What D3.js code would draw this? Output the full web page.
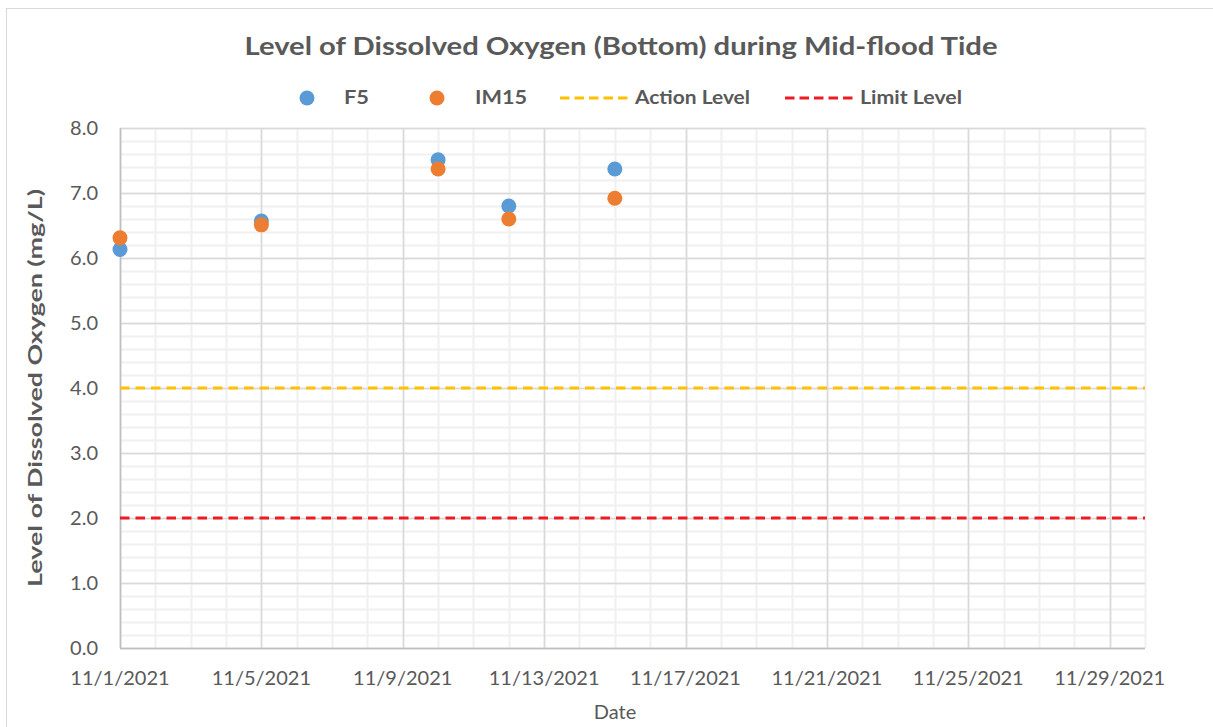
<!DOCTYPE html>
<html><head><meta charset="utf-8">
<script src="https://cdn.jsdelivr.net/npm/d3@7"></script>
<style>body{margin:0;background:#fff}svg{display:block}text{font-family:Lato,"Open Sans",sans-serif}</style>
</head><body><svg id="c" width="1213" height="727"></svg>
<script>
const dates = ["2021-11-01","2021-11-05","2021-11-10","2021-11-12","2021-11-15"];
const f5 = [6.13, 6.57, 7.51, 6.80, 7.37];
const im15 = [6.31, 6.51, 7.37, 6.60, 6.92];
const actionLevel = 4.0;
const limitLevel = 2.0;
const yTicks = [0,1,2,3,4,5,6,7,8];
const xTickDates = ["2021-11-01","2021-11-05","2021-11-09","2021-11-13","2021-11-17","2021-11-21","2021-11-25","2021-11-29"];
const xDomain = ["2021-11-01","2021-11-30"];

const parse = d3.utcParse("%Y-%m-%d");
const fmt = d => (d.getUTCMonth()+1)+"/"+d.getUTCDate()+"/"+d.getUTCFullYear();
const svg = d3.select("#c");
const L=120,R=1145,T=128,B=648;
const x = d3.scaleUtc().domain(xDomain.map(parse)).range([L,R]);
const y = d3.scaleLinear().domain([0,8]).range([B,T]);
const gray="#595959";

// frame
svg.append("rect").attr("x",6.5).attr("y",8.5).attr("width",1220).attr("height",740).attr("fill","none").attr("stroke","#d9d9d9");

// grid
const g = svg.append("g");
const minorY = d3.range(0,8.001,0.2);
g.selectAll(".my").data(minorY).enter().append("line")
 .attr("x1",L).attr("x2",R).attr("y1",d=>Math.round(y(d))+.5).attr("y2",d=>Math.round(y(d))+.5)
 .attr("stroke","#f0f0f0").attr("stroke-width",2);
const days = d3.utcDay.range(parse(xDomain[0]), d3.utcDay.offset(parse(xDomain[1]),1));
g.selectAll(".mx").data(days).enter().append("line")
 .attr("y1",T).attr("y2",B).attr("x1",d=>Math.round(x(d))+.5).attr("x2",d=>Math.round(x(d))+.5)
 .attr("stroke","#f0f0f0").attr("stroke-width",2);
g.selectAll(".My").data(yTicks).enter().append("line")
 .attr("x1",L).attr("x2",R).attr("y1",d=>Math.round(y(d))+.5).attr("y2",d=>Math.round(y(d))+.5)
 .attr("stroke","#d9d9d9").attr("stroke-width",1.5);
g.selectAll(".Mx").data(xTickDates.map(parse)).enter().append("line")
 .attr("y1",T).attr("y2",B).attr("x1",d=>Math.round(x(d))+.5).attr("x2",d=>Math.round(x(d))+.5)
 .attr("stroke","#d9d9d9").attr("stroke-width",1.5);
// axes lines
svg.append("line").attr("x1",L).attr("x2",R).attr("y1",B+.5).attr("y2",B+.5).attr("stroke","#bfbfbf").attr("stroke-width",1.5);
svg.append("line").attr("x1",L+.5).attr("x2",L+.5).attr("y1",T).attr("y2",B).attr("stroke","#bfbfbf").attr("stroke-width",1.5);

// y tick labels
svg.selectAll(".yl").data(yTicks).enter().append("text")
 .attr("x",98).attr("y",d=>y(d)).attr("dy","0.35em").attr("text-anchor","end")
 .attr("font-size",20).attr("fill",gray).text(d=>d.toFixed(1));
// x tick labels
svg.selectAll(".xl").data(xTickDates.map(parse)).enter().append("text")
 .attr("x",d=>x(d)).attr("y",678).attr("dy","0.35em").attr("text-anchor","middle")
 .attr("font-size",20).attr("fill",gray).text(fmt);

// reference lines
const refs=[{v:actionLevel,c:"#FFC000"},{v:limitLevel,c:"#ED1C24"}];
svg.selectAll(".ref").data(refs).enter().append("line")
 .attr("x1",L).attr("x2",R).attr("y1",d=>y(d.v)).attr("y2",d=>y(d.v))
 .attr("stroke",d=>d.c).attr("stroke-width",3).attr("stroke-dasharray","9.5,6");

// points
const series=[{vals:f5,c:"#5B9BD5"},{vals:im15,c:"#ED7D31"}];
series.forEach(s=>{
 svg.append("g").selectAll("circle").data(dates.map((d,i)=>({d:parse(d),v:s.vals[i]}))).enter().append("circle")
  .attr("cx",d=>x(d.d)).attr("cy",d=>y(d.v)).attr("r",7.5).attr("fill",s.c);
});

// title
svg.append("text").attr("x",621).attr("y",47).attr("dy","0.35em").attr("text-anchor","middle")
 .attr("font-size",24).attr("font-weight","bold").attr("fill",gray)
 .attr("textLength",753).attr("lengthAdjust","spacingAndGlyphs")
 .text("Level of Dissolved Oxygen (Bottom) during Mid-flood Tide");

// legend
const ly=98;
const lg=svg.append("g");
lg.append("circle").attr("cx",307).attr("cy",ly).attr("r",7.5).attr("fill","#5B9BD5");
lg.append("circle").attr("cx",437).attr("cy",ly).attr("r",7.5).attr("fill","#ED7D31");
lg.append("line").attr("x1",560).attr("x2",630).attr("y1",ly).attr("y2",ly).attr("stroke","#FFC000").attr("stroke-width",3).attr("stroke-dasharray","9.5,5");
lg.append("line").attr("x1",785).attr("x2",853).attr("y1",ly).attr("y2",ly).attr("stroke","#ED1C24").attr("stroke-width",3).attr("stroke-dasharray","9.5,5");
const legTexts=[{t:"F5",x:344,w:25},{t:"IM15",x:475,w:52},{t:"Action Level",x:635,w:115},{t:"Limit Level",x:860,w:102}];
lg.selectAll("text").data(legTexts).enter().append("text")
 .attr("x",d=>d.x).attr("y",ly).attr("dy","0.35em").attr("font-size",18).attr("font-weight","bold").attr("fill",gray)
 .attr("textLength",d=>d.w).attr("lengthAdjust","spacingAndGlyphs").text(d=>d.t);

// axis titles
svg.append("text").attr("x",615).attr("y",712).attr("dy","0.35em").attr("text-anchor","middle")
 .attr("font-size",20).attr("fill",gray).text("Date");
svg.append("text").attr("transform","translate(35,388) rotate(-90)").attr("dy","0.35em").attr("text-anchor","middle")
 .attr("font-size",19).attr("font-weight","bold").attr("fill",gray)
 .attr("textLength",398).attr("lengthAdjust","spacingAndGlyphs")
 .text("Level of Dissolved Oxygen (mg/L)");
</script></body></html>
